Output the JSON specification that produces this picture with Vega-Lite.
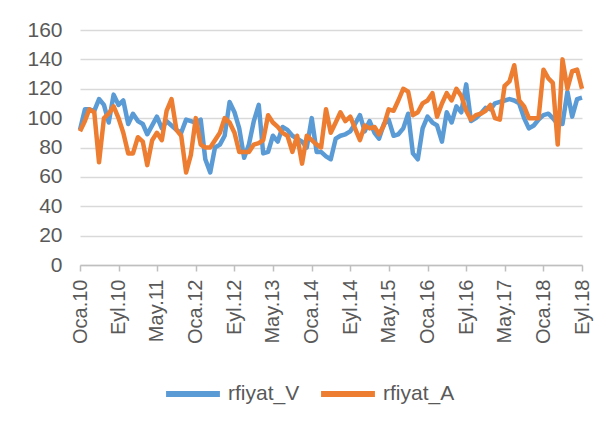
{
"$schema": "https://vega.github.io/schema/vega-lite/v6.json",
"width": 502, "height": 235,
"autosize": "none",
"padding": {"left": 80, "top": 30, "right": 26, "bottom": 169},
"background": "white",
"data": {"values": [
{"date":"2010-01-01","rfiyat_V":92,"rfiyat_A":91},
{"date":"2010-02-01","rfiyat_V":106,"rfiyat_A":98},
{"date":"2010-03-01","rfiyat_V":106,"rfiyat_A":106},
{"date":"2010-04-01","rfiyat_V":105,"rfiyat_A":104},
{"date":"2010-05-01","rfiyat_V":113,"rfiyat_A":70},
{"date":"2010-06-01","rfiyat_V":109,"rfiyat_A":100},
{"date":"2010-07-01","rfiyat_V":97,"rfiyat_A":103},
{"date":"2010-08-01","rfiyat_V":116,"rfiyat_A":108},
{"date":"2010-09-01","rfiyat_V":109,"rfiyat_A":100},
{"date":"2010-10-01","rfiyat_V":112,"rfiyat_A":90},
{"date":"2010-11-01","rfiyat_V":96,"rfiyat_A":76},
{"date":"2010-12-01","rfiyat_V":103,"rfiyat_A":76},
{"date":"2011-01-01","rfiyat_V":98,"rfiyat_A":87},
{"date":"2011-02-01","rfiyat_V":96,"rfiyat_A":84},
{"date":"2011-03-01","rfiyat_V":89,"rfiyat_A":68},
{"date":"2011-04-01","rfiyat_V":95,"rfiyat_A":85},
{"date":"2011-05-01","rfiyat_V":101,"rfiyat_A":90},
{"date":"2011-06-01","rfiyat_V":93,"rfiyat_A":85},
{"date":"2011-07-01","rfiyat_V":98,"rfiyat_A":105},
{"date":"2011-08-01","rfiyat_V":95,"rfiyat_A":113},
{"date":"2011-09-01","rfiyat_V":92,"rfiyat_A":92},
{"date":"2011-10-01","rfiyat_V":90,"rfiyat_A":88},
{"date":"2011-11-01","rfiyat_V":99,"rfiyat_A":63},
{"date":"2011-12-01","rfiyat_V":98,"rfiyat_A":75},
{"date":"2012-01-01","rfiyat_V":97,"rfiyat_A":100},
{"date":"2012-02-01","rfiyat_V":99,"rfiyat_A":82},
{"date":"2012-03-01","rfiyat_V":72,"rfiyat_A":80},
{"date":"2012-04-01","rfiyat_V":63,"rfiyat_A":80},
{"date":"2012-05-01","rfiyat_V":80,"rfiyat_A":85},
{"date":"2012-06-01","rfiyat_V":82,"rfiyat_A":90},
{"date":"2012-07-01","rfiyat_V":88,"rfiyat_A":100},
{"date":"2012-08-01","rfiyat_V":111,"rfiyat_A":97},
{"date":"2012-09-01","rfiyat_V":104,"rfiyat_A":90},
{"date":"2012-10-01","rfiyat_V":93,"rfiyat_A":77},
{"date":"2012-11-01","rfiyat_V":73,"rfiyat_A":77},
{"date":"2012-12-01","rfiyat_V":82,"rfiyat_A":77},
{"date":"2013-01-01","rfiyat_V":98,"rfiyat_A":82},
{"date":"2013-02-01","rfiyat_V":109,"rfiyat_A":83},
{"date":"2013-03-01","rfiyat_V":76,"rfiyat_A":85},
{"date":"2013-04-01","rfiyat_V":77,"rfiyat_A":102},
{"date":"2013-05-01","rfiyat_V":88,"rfiyat_A":97},
{"date":"2013-06-01","rfiyat_V":84,"rfiyat_A":94},
{"date":"2013-07-01","rfiyat_V":94,"rfiyat_A":90},
{"date":"2013-08-01","rfiyat_V":92,"rfiyat_A":88},
{"date":"2013-09-01","rfiyat_V":88,"rfiyat_A":77},
{"date":"2013-10-01","rfiyat_V":86,"rfiyat_A":88},
{"date":"2013-11-01","rfiyat_V":84,"rfiyat_A":69},
{"date":"2013-12-01","rfiyat_V":80,"rfiyat_A":88},
{"date":"2014-01-01","rfiyat_V":100,"rfiyat_A":85},
{"date":"2014-02-01","rfiyat_V":77,"rfiyat_A":82},
{"date":"2014-03-01","rfiyat_V":77,"rfiyat_A":80},
{"date":"2014-04-01","rfiyat_V":74,"rfiyat_A":106},
{"date":"2014-05-01","rfiyat_V":72,"rfiyat_A":90},
{"date":"2014-06-01","rfiyat_V":86,"rfiyat_A":97},
{"date":"2014-07-01","rfiyat_V":88,"rfiyat_A":104},
{"date":"2014-08-01","rfiyat_V":89,"rfiyat_A":98},
{"date":"2014-09-01","rfiyat_V":91,"rfiyat_A":101},
{"date":"2014-10-01","rfiyat_V":96,"rfiyat_A":93},
{"date":"2014-11-01","rfiyat_V":102,"rfiyat_A":85},
{"date":"2014-12-01","rfiyat_V":91,"rfiyat_A":95},
{"date":"2015-01-01","rfiyat_V":98,"rfiyat_A":93},
{"date":"2015-02-01","rfiyat_V":90,"rfiyat_A":94},
{"date":"2015-03-01","rfiyat_V":86,"rfiyat_A":89},
{"date":"2015-04-01","rfiyat_V":96,"rfiyat_A":95},
{"date":"2015-05-01","rfiyat_V":99,"rfiyat_A":106},
{"date":"2015-06-01","rfiyat_V":88,"rfiyat_A":105},
{"date":"2015-07-01","rfiyat_V":89,"rfiyat_A":112},
{"date":"2015-08-01","rfiyat_V":93,"rfiyat_A":120},
{"date":"2015-09-01","rfiyat_V":103,"rfiyat_A":118},
{"date":"2015-10-01","rfiyat_V":76,"rfiyat_A":102},
{"date":"2015-11-01","rfiyat_V":72,"rfiyat_A":104},
{"date":"2015-12-01","rfiyat_V":93,"rfiyat_A":110},
{"date":"2016-01-01","rfiyat_V":101,"rfiyat_A":112},
{"date":"2016-02-01","rfiyat_V":97,"rfiyat_A":117},
{"date":"2016-03-01","rfiyat_V":95,"rfiyat_A":101},
{"date":"2016-04-01","rfiyat_V":84,"rfiyat_A":110},
{"date":"2016-05-01","rfiyat_V":104,"rfiyat_A":117},
{"date":"2016-06-01","rfiyat_V":97,"rfiyat_A":112},
{"date":"2016-07-01","rfiyat_V":108,"rfiyat_A":120},
{"date":"2016-08-01","rfiyat_V":104,"rfiyat_A":115},
{"date":"2016-09-01","rfiyat_V":123,"rfiyat_A":105},
{"date":"2016-10-01","rfiyat_V":98,"rfiyat_A":99},
{"date":"2016-11-01","rfiyat_V":100,"rfiyat_A":102},
{"date":"2016-12-01","rfiyat_V":103,"rfiyat_A":103},
{"date":"2017-01-01","rfiyat_V":107,"rfiyat_A":105},
{"date":"2017-02-01","rfiyat_V":106,"rfiyat_A":109},
{"date":"2017-03-01","rfiyat_V":110,"rfiyat_A":100},
{"date":"2017-04-01","rfiyat_V":111,"rfiyat_A":99},
{"date":"2017-05-01","rfiyat_V":112,"rfiyat_A":122},
{"date":"2017-06-01","rfiyat_V":113,"rfiyat_A":125},
{"date":"2017-07-01","rfiyat_V":112,"rfiyat_A":136},
{"date":"2017-08-01","rfiyat_V":110,"rfiyat_A":112},
{"date":"2017-09-01","rfiyat_V":100,"rfiyat_A":108},
{"date":"2017-10-01","rfiyat_V":93,"rfiyat_A":100},
{"date":"2017-11-01","rfiyat_V":95,"rfiyat_A":100},
{"date":"2017-12-01","rfiyat_V":99,"rfiyat_A":100},
{"date":"2018-01-01","rfiyat_V":102,"rfiyat_A":133},
{"date":"2018-02-01","rfiyat_V":103,"rfiyat_A":127},
{"date":"2018-03-01","rfiyat_V":100,"rfiyat_A":124},
{"date":"2018-04-01","rfiyat_V":96,"rfiyat_A":82},
{"date":"2018-05-01","rfiyat_V":96,"rfiyat_A":140},
{"date":"2018-06-01","rfiyat_V":118,"rfiyat_A":120},
{"date":"2018-07-01","rfiyat_V":101,"rfiyat_A":132},
{"date":"2018-08-01","rfiyat_V":113,"rfiyat_A":133},
{"date":"2018-09-01","rfiyat_V":114,"rfiyat_A":120}
]},
"transform": [{"fold": ["rfiyat_V", "rfiyat_A"], "as": ["seri", "deger"]}],
"mark": {"type": "line", "strokeWidth": 4.5, "strokeJoin": "round"},
"encoding": {
  "x": {"field": "date", "type": "temporal",
    "scale": {"type": "utc", "domain": [{"year":2010,"month":1,"date":1,"utc":true},{"year":2018,"month":9,"date":1,"utc":true}], "nice": false},
    "axis": {"title": null, "grid": false,
      "values": [{"year":2010,"month":1,"utc":true},{"year":2010,"month":9,"utc":true},{"year":2011,"month":5,"utc":true},{"year":2012,"month":1,"utc":true},{"year":2012,"month":9,"utc":true},{"year":2013,"month":5,"utc":true},{"year":2014,"month":1,"utc":true},{"year":2014,"month":9,"utc":true},{"year":2015,"month":5,"utc":true},{"year":2016,"month":1,"utc":true},{"year":2016,"month":9,"utc":true},{"year":2017,"month":5,"utc":true},{"year":2018,"month":1,"utc":true},{"year":2018,"month":9,"utc":true}],
      "labelExpr": "['Oca','Şub','Mar','Nis','May','Haz','Tem','Ağu','Eyl','Eki','Kas','Ara'][utcmonth(datum.value)] + '.' + utcFormat(datum.value, '%y')",
      "labelAngle": -90, "labelFontSize": 20, "labelColor": "#595959", "labelPadding": 8,
      "tickSize": 6, "tickColor": "#bfbfbf", "domainColor": "#bfbfbf", "domainWidth": 1.5, "tickWidth": 1.5,
      "labelOverlap": false, "labelBound": false, "labelFlush": false}
  },
  "y": {"field": "deger", "type": "quantitative",
    "scale": {"domain": [0, 160], "nice": false, "zero": true},
    "axis": {"title": null, "values": [0,20,40,60,80,100,120,140,160], "domain": false, "ticks": false, "labelOverlap": false,
      "gridColor": "#d9d9d9", "gridWidth": 1.5, "labelFontSize": 21, "labelColor": "#595959", "labelPadding": 18}},
  "color": {"field": "seri", "type": "nominal", "sort": ["rfiyat_V", "rfiyat_A"],
    "scale": {"domain": ["rfiyat_V", "rfiyat_A"], "range": ["#5B9BD5", "#ED7D31"]},
    "legend": {"title": null, "orient": "none", "legendX": 83, "legendY": 334, "direction": "horizontal",
      "symbolType": "stroke", "symbolSize": 2900, "symbolStrokeWidth": 6,
      "labelFontSize": 21, "labelColor": "#595959", "columnPadding": 9, "labelOffset": 5}}
},
"config": {"font": "Liberation Sans", "view": {"stroke": null}}
}
